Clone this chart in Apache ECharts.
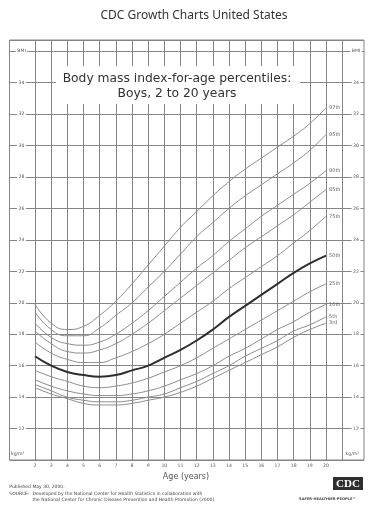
<!DOCTYPE html>
<html>
<head>
<meta charset="utf-8">
<script src="https://cdn.jsdelivr.net/npm/echarts/dist/echarts.min.js"></script>
<style>
html,body{margin:0;padding:0;background:#fff;}
#chart{width:381px;height:517px;}
</style>
</head>
<body>
<div id="chart"></div>
<script>
// ---- data (BMI kg/m², boys, by age in years) ----
const ages = [2,3,4,5,6,7,8,9,10,11,12,13,14,15,16,17,18,19,20];
const p97 = [19.9,18.7,18.3,18.5,19.2,20.1,21.2,22.4,23.6,24.8,25.8,26.8,27.7,28.5,29.2,29.9,30.6,31.4,32.4];
const p95 = [19.4,18.3,17.9,17.9,18.4,19.2,20.0,21.0,22.0,23.1,24.2,25.1,26.0,26.8,27.5,28.2,28.9,29.7,30.7];
const p90 = [18.7,17.8,17.4,17.3,17.5,18.0,18.7,19.5,20.4,21.3,22.2,23.0,23.9,24.7,25.5,26.2,26.9,27.6,28.4];
const p85 = [18.2,17.4,16.9,16.8,17.0,17.4,18.0,18.7,19.5,20.3,21.1,21.9,22.7,23.5,24.2,24.9,25.6,26.4,27.2];
const p75 = [17.5,16.8,16.4,16.2,16.2,16.5,16.9,17.4,18.0,18.7,19.4,20.1,20.9,21.6,22.3,23.0,23.8,24.6,25.5];
const p50 = [16.6,16.0,15.6,15.4,15.3,15.4,15.7,16.0,16.5,17.0,17.6,18.3,19.1,19.8,20.5,21.2,21.9,22.5,23.0];
const p25 = [15.7,15.3,15.0,14.7,14.6,14.7,14.9,15.2,15.6,16.0,16.5,17.1,17.7,18.3,18.9,19.5,20.1,20.7,21.2];
const p10 = [15.1,14.7,14.4,14.2,14.1,14.1,14.2,14.4,14.7,15.1,15.5,16.0,16.6,17.1,17.7,18.3,18.8,19.4,19.9];
const p5  = [14.8,14.4,14.0,13.8,13.7,13.7,13.8,14.0,14.2,14.6,15.0,15.5,16.0,16.6,17.1,17.6,18.2,18.6,19.1];
const p3  = [14.6,14.2,13.9,13.6,13.5,13.5,13.6,13.8,14.0,14.3,14.7,15.2,15.7,16.2,16.7,17.2,17.8,18.3,18.7];
const percentileNames = ['97th','95th','90th','85th','75th','50th','25th','10th','5th','3rd'];
const percentileValues = [p97,p95,p90,p85,p75,p50,p25,p10,p5,p3];
const bmiTicks = [12,14,16,18,20,22,24,26,28,30,32,34];
const ageTicks = ages;

const GRID = '#858585';
const chart = echarts.init(document.getElementById('chart'), null, {renderer:'canvas'});

function bmiLabel(v){
  if (v === 36) return 'BMI';
  if (bmiTicks.indexOf(v) >= 0) return String(v);
  return '';
}

const series = percentileValues.map((vals, i) => {
  const name = percentileNames[i];
  const main = name === '50th';
  return {
    type: 'line', name: name, xAxisIndex: 1, yAxisIndex: 2,
    data: ages.map((a, j) => [a, vals[j]]),
    smooth: 0.5, showSymbol: false, silent: true, z: 5,
    lineStyle: {color: main ? '#2e2e2e' : '#8a8a8a', width: main ? 2 : 1},
    endLabel: {show: true, formatter: name, fontSize: 5, color: '#666', distance: 3, fontFamily: 'DejaVu Sans'}
  };
});

const option = {
  animation: false,
  backgroundColor: '#fff',
  grid: [
    {left: 9.5, right: 17, top: 40, bottom: 57, show: true, borderColor: GRID, borderWidth: 1, backgroundColor: 'transparent'},
    {left: 35, right: 38.8, top: 40, bottom: 57}
  ],
  xAxis: [
    {gridIndex: 0, type: 'value', min: 0, max: 1, show: false},
    {gridIndex: 1, type: 'value', min: 2, max: 21, interval: 1,
      axisLine: {show: false}, axisTick: {show: false},
      splitLine: {show: true, lineStyle: {color: GRID, width: 1}},
      axisLabel: {fontSize: 4.6, color: '#555', margin: 3, fontFamily: 'DejaVu Sans',
        formatter: v => (ageTicks.indexOf(v) >= 0 ? String(v) : '')}}
  ],
  yAxis: [
    {gridIndex: 0, type: 'value', position: 'left', min: 10, max: 36.71, interval: 2,
      axisLine: {show: false}, axisTick: {show: false},
      splitLine: {show: true, lineStyle: {color: GRID, width: 1}},
      axisLabel: {inside: true, margin: 12, align: 'center', fontSize: 4.6, color: '#555', fontFamily: 'DejaVu Sans',
        backgroundColor: '#fff', padding: [0, 1.5], formatter: bmiLabel}},
    {gridIndex: 0, type: 'value', position: 'right', min: 10, max: 36.71, interval: 2,
      axisLine: {show: false}, axisTick: {show: false}, splitLine: {show: false},
      axisLabel: {inside: true, margin: 8, align: 'center', fontSize: 4.6, color: '#555', fontFamily: 'DejaVu Sans',
        backgroundColor: '#fff', padding: [0, 1.5], formatter: bmiLabel}},
    {gridIndex: 1, type: 'value', min: 10, max: 36.71, show: false}
  ],
  series: series,
  graphic: [
    {type: 'text', z: 100, x: 194, y: 16, style: {text: 'CDC Growth Charts United States', fontFamily: 'Noto Sans', fontSize: 12, fill: '#333', textAlign: 'center', textVerticalAlign: 'middle'}},
    {type: 'rect', z: 90, shape: {x: 56, y: 66, width: 244, height: 38}, style: {fill: '#fff'}},
    {type: 'text', z: 100, x: 177, y: 78.5, style: {text: 'Body mass index-for-age percentiles:', fontFamily: 'DejaVu Sans', fontSize: 12.3, fill: '#333', textAlign: 'center', textVerticalAlign: 'middle'}},
    {type: 'text', z: 100, x: 177, y: 93.5, style: {text: 'Boys, 2 to 20 years', fontFamily: 'DejaVu Sans', fontSize: 12.3, fill: '#333', textAlign: 'center', textVerticalAlign: 'middle'}},
    {type: 'text', z: 100, x: 17.7, y: 453.5, style: {text: 'kg/m²', fontFamily: 'DejaVu Sans', fontSize: 4.6, fill: '#555', textAlign: 'center', textVerticalAlign: 'middle'}},
    {type: 'text', z: 100, x: 352.3, y: 453.5, style: {text: 'kg/m²', fontFamily: 'DejaVu Sans', fontSize: 4.6, fill: '#555', textAlign: 'center', textVerticalAlign: 'middle'}},
    {type: 'text', z: 100, x: 186, y: 477, style: {text: 'Age (years)', fontFamily: 'DejaVu Sans', fontSize: 8, fill: '#555', textAlign: 'center', textVerticalAlign: 'middle'}},
    {type: 'text', z: 100, x: 9.3, y: 487, style: {text: 'Published May 30, 2000.', fontFamily: 'DejaVu Sans', fontSize: 4.5, fill: '#444', textVerticalAlign: 'middle'}},
    {type: 'text', z: 100, x: 9.3, y: 494, style: {text: 'SOURCE:', fontFamily: 'DejaVu Sans', fontSize: 4.5, fill: '#444', textVerticalAlign: 'middle'}},
    {type: 'text', z: 100, x: 32.5, y: 494, style: {text: 'Developed by the National Center for Health Statistics in collaboration with', fontFamily: 'DejaVu Sans', fontSize: 4.5, fill: '#444', textVerticalAlign: 'middle'}},
    {type: 'text', z: 100, x: 32.5, y: 499.5, style: {text: 'the National Center for Chronic Disease Prevention and Health Promotion (2000).', fontFamily: 'DejaVu Sans', fontSize: 4.5, fill: '#444', textVerticalAlign: 'middle'}},
    {type: 'rect', z: 100, shape: {x: 333, y: 477, width: 30, height: 13}, style: {fill: '#2f2f2f'}},
    {type: 'text', z: 101, x: 348, y: 483.8, style: {text: 'CDC', fontFamily: 'Liberation Serif', fontWeight: 'bold', fontSize: 11, fill: '#fff', textAlign: 'center', textVerticalAlign: 'middle'}},
    {type: 'text', z: 100, x: 327.5, y: 499, style: {text: 'SAFER·HEALTHIER·PEOPLE™', fontFamily: 'DejaVu Sans', fontWeight: 'bold', fontSize: 3.6, fill: '#444', textAlign: 'center', textVerticalAlign: 'middle'}}
  ]
};
chart.setOption(option);
</script>
</body>
</html>
